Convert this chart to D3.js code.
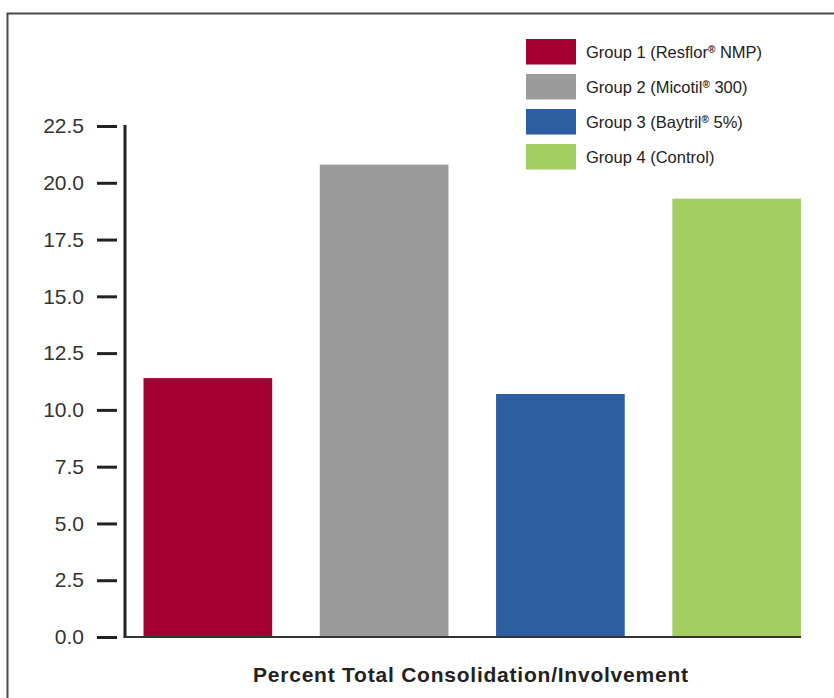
<!DOCTYPE html>
<html>
<head>
<meta charset="utf-8">
<script src="https://cdn.jsdelivr.net/npm/d3@7"></script>
<style>
  html, body { margin: 0; padding: 0; background: #fff; }
  svg { display: block; font-family: "Liberation Sans", Arial, Helvetica, sans-serif; }
</style>
</head>
<body>
<svg id="chart" width="834" height="698"></svg>
<script>
// Percent total lung consolidation/involvement by treatment group
const groups = ["Group 1", "Group 2", "Group 3", "Group 4"];
const legendNames = ["Group 1 (Resflor", "Group 2 (Micotil", "Group 3 (Baytril", "Group 4 (Control)"];
const legendMarks = ["\u00AE", "\u00AE", "\u00AE", ""];
const legendTails = [" NMP)", " 300)", " 5%)", ""];
const values = [11.4, 20.8, 10.7, 19.3];
const colors = ["#A50034", "#9B9B9B", "#2E5EA2", "#A3CF62"];
const yTicks = [0, 2.5, 5, 7.5, 10, 12.5, 15, 17.5, 20, 22.5];
const xTitle = "Percent Total Consolidation/Involvement";

const svg = d3.select("#chart");

// outer frame (runs past the right and bottom edges)
svg.append("rect")
  .attr("x", 7.5).attr("y", 13.5)
  .attr("width", 900).attr("height", 800)
  .attr("fill", "none").attr("stroke", "#4a4a4a").attr("stroke-width", 2);

const plotLeft = 125, plotRight = 801;
const y = d3.scaleLinear().domain([0, 22.5]).range([637, 126]);
const x = d3.scaleBand().domain(groups)
  .range([143.5, plotRight])
  .paddingInner(0.27).paddingOuter(0);

// bars
svg.append("g").selectAll("rect")
  .data(groups)
  .join("rect")
  .attr("x", d => x(d))
  .attr("width", x.bandwidth())
  .attr("y", (d, i) => y(values[i]))
  .attr("height", (d, i) => y(0) - y(values[i]))
  .attr("fill", (d, i) => colors[i]);

// y axis: detached ticks and labels
const yAxis = d3.axisLeft(y)
  .tickValues(yTicks)
  .tickFormat(d3.format(".1f"))
  .tickSizeInner(20).tickSizeOuter(0).tickPadding(13);
const gy = svg.append("g").attr("transform", "translate(117,0)").call(yAxis);
gy.select(".domain").remove();
gy.selectAll(".tick line").attr("stroke", "#222").attr("stroke-width", 3);
gy.selectAll(".tick text")
  .attr("fill", "#333").attr("font-size", 21).attr("font-family", "Liberation Sans, Arial, sans-serif");

// vertical axis line
svg.append("line")
  .attr("x1", plotLeft).attr("x2", plotLeft)
  .attr("y1", y(22.5) - 1).attr("y2", y(0) + 1)
  .attr("stroke", "#222").attr("stroke-width", 3);

// baseline
svg.append("line")
  .attr("x1", plotLeft).attr("x2", plotRight)
  .attr("y1", y(0)).attr("y2", y(0))
  .attr("stroke", "#333").attr("stroke-width", 2);

// x title
svg.append("text")
  .attr("x", 470.5).attr("y", 682)
  .attr("text-anchor", "middle")
  .attr("font-size", 21).attr("font-weight", "bold")
  .attr("fill", "#222")
  .attr("textLength", 435).attr("lengthAdjust", "spacing")
  .text(xTitle);

// legend
const legend = svg.append("g").attr("transform", "translate(526,39)");
const items = legend.selectAll("g")
  .data(groups)
  .join("g")
  .attr("transform", (d, i) => `translate(0,${i * 35})`);
items.append("rect")
  .attr("width", 50).attr("height", 25.5)
  .attr("fill", (d, i) => colors[i]);
const lt = items.append("text")
  .attr("x", 60).attr("y", 18.5)
  .attr("font-size", 16.5).attr("fill", "#222");
lt.append("tspan").text((d, i) => legendNames[i]);
lt.append("tspan")
  .attr("font-size", 10).attr("font-weight", "bold").attr("dy", -5)
  .text((d, i) => legendMarks[i]);
lt.append("tspan").attr("dy", (d, i) => legendMarks[i] ? 5 : 0)
  .text((d, i) => legendTails[i]);
</script>
</body>
</html>
